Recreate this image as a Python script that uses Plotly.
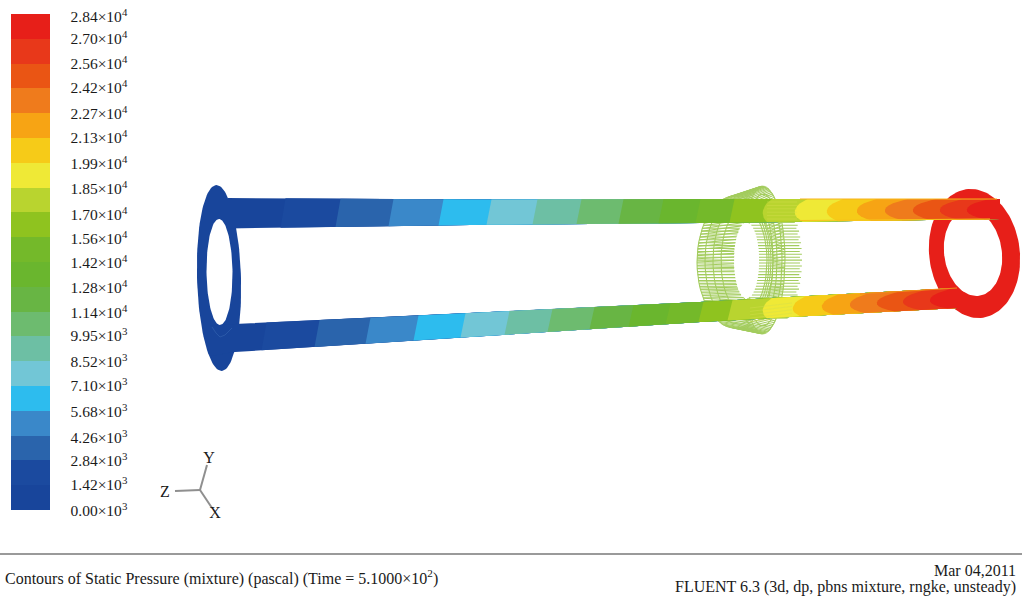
import numpy as np
import plotly.graph_objects as go

# ---- data ----
tick_labels = ["0.00×10<sup>3</sup>", "1.42×10<sup>3</sup>", "2.84×10<sup>3</sup>", "4.26×10<sup>3</sup>",
               "5.68×10<sup>3</sup>", "7.10×10<sup>3</sup>", "8.52×10<sup>3</sup>", "9.95×10<sup>3</sup>",
               "1.14×10<sup>4</sup>", "1.28×10<sup>4</sup>", "1.42×10<sup>4</sup>", "1.56×10<sup>4</sup>",
               "1.70×10<sup>4</sup>", "1.85×10<sup>4</sup>", "1.99×10<sup>4</sup>", "2.13×10<sup>4</sup>",
               "2.27×10<sup>4</sup>", "2.42×10<sup>4</sup>", "2.56×10<sup>4</sup>", "2.70×10<sup>4</sup>",
               "2.84×10<sup>4</sup>"]
tick_y = [512.5, 486.5, 462.5, 439.5, 413.5, 387.5, 363.5, 337.5, 314.5, 289.5, 264.5, 240.5, 216.5, 190.5,
          165.5, 139.5, 115.5, 89.5, 65.5, 40.5, 18.5]
band_colors = ["#18459b", "#1b4a9f", "#2a64ac", "#3a88c9", "#2dbcee", "#72c6d6", "#6dbfa4", "#6dbb6f",
               "#68b544", "#6ab62e", "#74b92a", "#8fc31f", "#b9d42f", "#efe936", "#f6cb18", "#f7a414",
               "#ef7b1c", "#ea5514", "#e8381a", "#e71f19"]
band_index = list(range(20))

upper_x = [228, 470, 700, 1000]
upper_top = [198, 199.5, 199, 199]
upper_bot = [228.5, 225, 223, 219]
upper_breaks = [283, 338, 391, 441, 489, 535, 579, 621, 661, 698, 732, 763, 795, 827, 857, 885, 913, 940, 967]

lower_x = [210, 235, 470, 700, 957]
lower_top = [325.5, 324, 313, 302, 288]
lower_bot = [356, 352, 337, 322, 308]
lower_breaks = [264, 317, 368, 416, 463, 507, 550, 592, 631, 668, 701, 730, 763, 793, 822, 850, 877, 903, 930]

# ellipses: cx, cy, a, b, shear
left_ring = (219, 278, 22, 93, 0.027)
left_hole = (219.5, 272, 13, 53, 0.01)
right_ring = (974.5, 253.5, 45.5, 64.5, 0.06)
right_hole = (973, 253, 29, 43, 0.08)
mesh_rings = [(735, 262, 38, 66, 0.0), (738, 261, 33, 63, 0.0), (741, 261, 28, 58, 0.0), (744, 261, 23, 52, 0.0),
              (763, 260, 22, 73, 0.0), (763, 260, 19, 66, 0.0), (761, 260, 16, 60, 0.0), (759, 260, 14, 52, 0.0)]
mesh_hole = (746.5, 260.5, 12.5, 38, 0.0)

triad_x = [[200, 207], [200, 175], [200, 212]]
triad_y = [[490, 465], [490, 491], [490, 508]]
triad_names = ["Y", "Z", "X"]
triad_lx = [209, 165, 215]
triad_ly = [459, 493, 514]

GREEN = "#a3cc5e"
fig = go.Figure()


def ellipse(e, n=121):
    cx, cy, a, b, k = e
    t = np.linspace(0, 2 * np.pi, n)
    y = cy + b * np.sin(t)
    return cx + a * np.cos(t) + k * (y - cy), y


def add_fill(x, y, color):
    fig.add_trace(go.Scatter(x=list(x), y=list(y), mode="lines", fill="toself", fillcolor=color,
                             line=dict(color=color, width=0), hoverinfo="skip"))


def add_lines(xs, ys, color, width, opacity=1.0):
    fig.add_trace(go.Scatter(x=xs, y=ys, mode="lines", line=dict(color=color, width=width),
                             opacity=opacity, hoverinfo="skip", connectgaps=False))


def tube(tx, ttop, tbot, breaks, chevron_from):
    for i, b in enumerate([tx[0]] + breaks):
        depth = 0 if i < chevron_from else min(3 + 3.5 * (i - chevron_from + 1), 20)
        slant = 0 if i == 0 else 2.5
        fr = np.linspace(0, 1, 11)
        prof = np.abs(2 * fr - 1) ** 2.2
        xb = b + slant * (1 - 2 * fr) + depth * prof
        yb = [np.interp(x, tx, ttop) * (1 - f) + np.interp(x, tx, tbot) * f for x, f in zip(xb, fr)]
        after_bot = [x for x in reversed(tx) if x > xb[-1]]
        after_top = [x for x in tx if x > xb[0]]
        xs = list(xb) + after_bot[::-1] + after_top[::-1]
        ys = yb + [np.interp(x, tx, tbot) for x in after_bot[::-1]] + [np.interp(x, tx, ttop) for x in after_top[::-1]]
        add_fill(xs, ys, band_colors[i])


# legend colour bar
edges = np.linspace(510, 14, 21)
fig.add_trace(go.Heatmap(x=[11, 50], y=edges, z=[[v] for v in band_index], zmin=-0.5, zmax=19.5,
                         colorscale=[c for i, col in enumerate(band_colors)
                                     for c in ([i / 20, col], [(i + 1) / 20, col])],
                         showscale=False, hoverinfo="skip"))
fig.add_trace(go.Scatter(x=[70.5] * 21, y=tick_y, text=tick_labels, mode="text", textposition="middle right",
                         textfont=dict(family="Liberation Serif", size=15.5, color="#1a1a1a"), hoverinfo="skip"))

# rings behind the tubes
rx, ry = ellipse(right_ring)
add_fill(rx, ry, band_colors[19])
hx, hy = ellipse(right_hole)
add_fill(hx, hy, "#ffffff")

# wire mesh of the middle ring
mx, my = [], []
for e in mesh_rings:
    ex, ey = ellipse(e, 61)
    mx += list(ex) + [None]
    my += list(ey) + [None]
left_edge = mesh_rings[0]
for n, y in enumerate(np.arange(205, 320, 2.9)):
    s = np.sqrt(max(0, 1 - ((y - left_edge[1]) / left_edge[3]) ** 2))
    xl = left_edge[0] - left_edge[2] * s
    sh = np.sqrt(max(0, 1 - ((y - mesh_hole[1]) / mesh_hole[3]) ** 2))
    xhl = mesh_hole[0] - mesh_hole[2] * sh if sh > 0 else left_edge[0] + 30
    xhr = mesh_hole[0] + mesh_hole[2] * sh if sh > 0 else left_edge[0] + 30
    sr = np.sqrt(max(0, 1 - ((y - 260) / 72) ** 2))
    xr = 765 + 35 * sr + (2 if n % 2 else 0)
    mx += [xl, xhl, None, xhr, xr, None]
    my += [y, y, None, y, y, None]
# top and bottom caps of the ring
for t in np.linspace(0, 2 * np.pi, 130, endpoint=False):
    mx += [735 + 38 * np.cos(t), 763 + 22 * np.cos(t), None]
    my += [262 + 66 * np.sin(t), 260 + 74 * np.sin(t), None]
add_lines(mx, my, GREEN, 1.05)
hx, hy = ellipse(mesh_hole)
add_fill(hx, hy, "#ffffff")

lx, ly = ellipse(left_ring)
add_fill(lx, ly, band_colors[0])
hx, hy = ellipse(left_hole)
add_fill(hx, hy, "#ffffff")

tube(upper_x, upper_top, upper_bot, upper_breaks, 12)
tube(lower_x, lower_top, lower_bot, lower_breaks, 13)

# faint arc of the flange lip and mesh seen through the tubes
add_lines([212, 216, 220, 225, 232], [327, 333, 337, 335, 328], "#2f5dab", 0.8)
ox, oy = [], []
for y in np.arange(202, 220, 3.4):
    ox += [767, 797, None]
    oy += [y, y, None]
for y in np.arange(308, 324, 3.4):
    ox += [750, 792, None]
    oy += [y, y - 5, None]
add_lines(ox, oy, "#d4e04e", 0.8, 0.55)

# bright rims on the hot part of the tubes
add_lines([800, 850, 900, 997], [199, 199, 199, 199], "#f7b31a", 1)
add_lines([800, 850, 900, 990], [220.5, 220, 220, 219], "#f6c21a", 1)
add_lines([860, 910, 957], [294, 291, 288], "#f08a1c", 1)

# axes triad
for x, y in zip(triad_x, triad_y):
    add_lines(x, y, "#8f8f8f", 2)
fig.add_trace(go.Scatter(x=triad_lx, y=triad_ly, text=triad_names, mode="text", textposition="middle center",
                         textfont=dict(family="Liberation Serif", size=16, color="#1a1a1a"), hoverinfo="skip"))

# footer
font = dict(family="Liberation Serif", size=16, color="#1a1a1a")
add_lines([0, 1022], [554, 554], "#9a9a9a", 2)
fig.add_annotation(x=3, y=577, text="Contours of Static Pressure (mixture) (pascal) (Time = 5.1000×10<sup>2</sup>)",
                   showarrow=False, xanchor="left", yanchor="middle", font=font)
fig.add_annotation(x=1018, y=570, text="Mar 04,2011", showarrow=False, xanchor="right", yanchor="middle", font=font)
fig.add_annotation(x=1018, y=587, text="FLUENT 6.3 (3d, dp, pbns mixture, rngke, unsteady)",
                   showarrow=False, xanchor="right", yanchor="middle", font=font)

fig.update_layout(width=1022, height=602, margin=dict(l=0, r=0, t=0, b=0), showlegend=False,
                  plot_bgcolor="white", paper_bgcolor="white",
                  xaxis=dict(range=[0, 1022], visible=False, fixedrange=True),
                  yaxis=dict(range=[602, 0], visible=False, fixedrange=True))
fig.write_html("out.html", config=dict(displayModeBar=False),
               post_script="document.body.style.margin='0';document.body.style.overflow='hidden';")
